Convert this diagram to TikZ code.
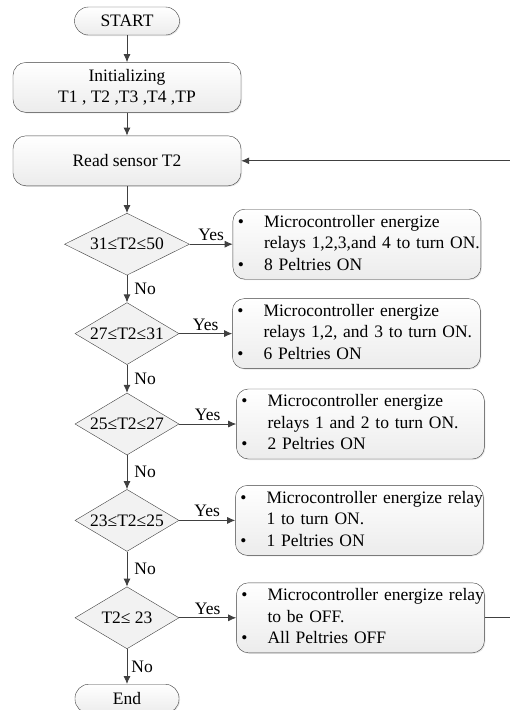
\documentclass[tikz,border=0pt]{standalone}
\usepackage{fontspec}
\setmainfont{Liberation Serif}
\usetikzlibrary{shapes,arrows.meta,positioning,shadows}

\begin{document}
\begin{tikzpicture}[
    x=1pt, y=-1pt,
    node distance=27pt,
    every node/.style={font=\fontsize{17.5}{21.5}\selectfont},
    term/.style={
        rectangle,
        draw=black!75,
        top color=white,
        bottom color=gray!15,
        rounded corners=14pt,
        minimum width=105pt,
        minimum height=28pt,
        inner sep=0pt,
        drop shadow={opacity=0.2, shadow xshift=1pt, shadow yshift=-1pt}
    },
    block/.style={
        rectangle,
        draw=black!75,
        top color=white,
        bottom color=gray!15,
        rounded corners=13pt,
        minimum width=228pt,
        minimum height=50pt,
        align=center,
        inner sep=0pt,
        drop shadow={opacity=0.2, shadow xshift=1pt, shadow yshift=-1pt}
    },
    decision/.style={
        diamond,
        draw=black!75,
        fill=gray!10,
        aspect=1.7,
        inner sep=0pt,
        minimum width=104pt,
        minimum height=62pt
    },
    action/.style={
        rectangle,
        draw=black!75,
        top color=white,
        bottom color=gray!15,
        rounded corners=12pt,
        text width=238pt,
        align=left,
        minimum height=70pt,
        inner xsep=5pt,
        inner ysep=0pt,
        drop shadow={opacity=0.2, shadow xshift=1pt, shadow yshift=-1pt}
    },
    line/.style={
        draw=black!75,
        -{Latex[length=8pt, width=7pt]},
        thick
    },
    lbl/.style={
        inner sep=2pt
    }
]

    \useasboundingbox (0,0) rectangle (510,710);
    \clip (0,0) rectangle (510,710);

    % Start and setup
    \node [term] (start) at (127,21) {START};
    \node [block, below=of start] (init) {Initializing\\T1 , T2 ,T3 ,T4 ,TP};
    \node [block, below=23pt of init] (read) {Read sensor T2};

    % Checks
    \node [decision, minimum width=125pt, below=of read] (d1) {31≤T2≤50};
    \node [decision, below=of d1] (d2) {27≤T2≤31};
    \node [decision, below=28pt of d2] (d3) {25≤T2≤27};
    \node [decision, below=34pt of d3] (d4) {23≤T2≤25};
    \node [decision, below=35pt of d4] (d5) {T2≤ 23};
    \node [term, minimum width=104pt, minimum height=29pt, below=35pt of d5] (stop) {End};

    % Actions
    \node [action, right=43pt of d1] (b1) {\begin{tabular}{@{}l@{\hspace{20pt}}l@{}}
        \textbullet & Microcontroller energize\\
         & relays 1,2,3,and 4 to turn ON.\\
        \textbullet & 8 Peltries ON
    \end{tabular}};
    \node [action, right=53pt of d2] (b2) {\begin{tabular}{@{}l@{\hspace{20pt}}l@{}}
        \textbullet & Microcontroller energize\\
         & relays 1,2, and 3 to turn ON.\\
        \textbullet & 6 Peltries ON
    \end{tabular}};
    \node [action, right=57pt of d3] (b3) {\begin{tabular}{@{}l@{\hspace{20pt}}l@{}}
        \textbullet & Microcontroller energize\\
         & relays 1 and 2 to turn ON.\\
        \textbullet & 2 Peltries ON
    \end{tabular}};
    \node [action, right=56pt of d4] (b4) {\begin{tabular}{@{}l@{\hspace{20pt}}l@{}}
        \textbullet & Microcontroller energize relay\\
         & 1 to turn ON.\\
        \textbullet & 1 Peltries ON
    \end{tabular}};
    \node [action, right=57pt of d5] (b5) {\begin{tabular}{@{}l@{\hspace{20pt}}l@{}}
        \textbullet & Microcontroller energize relay\\
         & to be OFF.\\
        \textbullet & All Peltries OFF
    \end{tabular}};

    % Edges
    \path [line] (start) -- (init);
    \path [line] (init) -- (read);
    \path [line] (read) -- (d1);

    \path [line] (d1) -- node [lbl, right, xshift=5pt] {No} (d2);
    \path [line] (d2) -- node [lbl, right, xshift=5pt] {No} (d3);
    \path [line] (d3) -- node [lbl, right, xshift=5pt] {No} (d4);
    \path [line] (d4) -- node [lbl, right, xshift=5pt] {No} (d5);
    \path [line] (d5) -- node [lbl, right, xshift=2pt] {No} (stop);

    \path [line] (d1) -- node [lbl, above, yshift=1pt] {Yes} (b1);
    \path [line] (d2) -- node [lbl, above, yshift=1pt] {Yes} (b2);
    \path [line] (d3) -- node [lbl, above, yshift=1pt] {Yes} (b3);
    \path [line] (d4) -- node [lbl, above, yshift=1pt] {Yes} (b4);
    \path [line] (d5) -- node [lbl, above, yshift=1pt] {Yes} (b5);

    % Loop back
    \path [line] (b5.east) -- ++(33,0) |- (read.east);

\end{tikzpicture}
\end{document}
